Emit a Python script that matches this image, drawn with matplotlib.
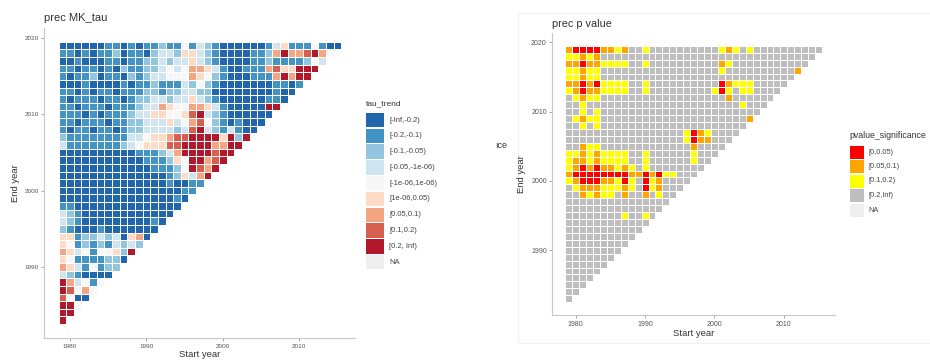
import numpy as np
import matplotlib
matplotlib.use("Agg")
import matplotlib.pyplot as plt
from matplotlib.colors import ListedColormap, BoundaryNorm
from matplotlib.patches import Rectangle

plt.rcParams['font.family'] = ['Liberation Sans', 'DejaVu Sans']

# ---------------- data ----------------
start_years = list(range(1979, 2016))          # columns
end_years = list(range(2019, 1982, -1))        # rows, top to bottom

tau_labels = ["[-Inf,-0.2)", "[-0.2,-0.1)", "[-0.1,-0.05)", "[-0.05,-1e-06)",
              "[-1e-06,1e-06)", "[1e-06,0.05)", "[0.05,0.1)", "[0.1,0.2)",
              "[0.2, Inf)", "NA"]
tau_colors = ["#2166AC", "#4393C3", "#92C5DE", "#D1E5F0", "#F7F7F7",
              "#FDDBC7", "#F4A582", "#D6604D", "#B2182B", "#EFEFEF"]

# class index per cell (row = end year 2019 ... 1983, column = start year from 1979)
tau_rows = [
    "0000001101011" "2114132" "10000001" "35" "111" "4" "100",
    "1101011201102" "3325532" "10000112" "68667864",
    "0010001101122" "3233532" "10000112" "1111243",
    "1101101021122" "3434665" "31001116" "755888",
    "1011201102123" "3444654" "21000111" "68688",
    "0001000010112" "1113242" "10000000" "1101",
    "1101011011122" "1223322" "00000000" "100",
    "1011101101223" "3233532" "10000001" "10",
    "1101110111233" "6544665" "31000008" "8",
    "1110101112335" "5445783" "21000000",
    "1101110112233" "3534674" "2101000",
    "1011011012233" "3323783" "213100",
    "2111111113345" "5677" "88885828",
    "3111111123455" "5778" "8886688",
    "0000000000111" "2368" "888788",
    "0000000000011" "1254" "88678",
    "0000000000001" "1124" "8768",
    "0000000000000" "0125" "368",
    "0000000000000010011",
    "000000000000000011",
    "00000000000000010",
    "1100000000000000",
    "321000000000000",
    "32100000000010",
    "2100010000000",
    "551223230560",
    "54121213232",
    "6534144528",
    "541111220",
    "65314122",
    "3210000",
    "863414",
    "87464",
    "7400",
    "884",
    "88",
    "8",
]

p_labels = ["[0,0.05)", "[0.05,0.1)", "[0.1,0.2)", "[0.2,Inf)", "NA"]
p_colors = ["#FF0000", "#FFA500", "#FFFF00", "#BEBEBE", "#EFEFEF"]

p_rows = [
    "1000011213" "32" "3333333333" "21232" "3333333333",
    "22121" + "3" * 31,
    "11011" "2222" "33" "2" "3333333333" "12" + "3" * 11,
    "22122" + "3" * 17 + "2" + "3" * 10 + "1",
    "22122" + "3" * 28,
    "11010" "2222" "33" "2" + "3" * 10 + "01222" + "3" * 5,
    "21011" "2222" "33" "2" + "3" * 9 + "202322" + "3" * 4,
    "32122" + "3" * 18 + "1" + "3" * 6,
    "332" + "3" * 22 + "2" + "3" * 3,
    "33232" + "3" * 23,
    "32122" + "3" * 21 + "1",
    "33232" + "3" * 21,
    "3" * 17 + "2012" + "3" * 4,
    "3" * 17 + "2011" + "3" * 3,
    "33122" + "3" * 13 + "1" + "3" * 4,
    "22121" "2222" "33" "2" + "3" * 6 + "2" + "3" * 3,
    "21121" "2222" "33" "2" + "3" * 6 + "2" + "3" * 2,
    "2101011212" "3" "2" + "3" * 8,
    "1" "00000000" "11" "0" "1" "0" "22" "333",
    "2100011202" "3" "021" "3333",
    "3211122212" "3" "021" "333",
    "3312122313" "3" "132" "33",
    "3" * 15,
    "3" * 14,
    "33333333" "2" "33" "2" "3",
    "3" * 12, "3" * 11, "3" * 10, "3" * 9, "3" * 8, "3" * 7,
    "3" * 6, "3" * 5, "3" * 4, "3" * 3, "3" * 2, "3",
]


def to_grid(rows):
    grid = np.full((len(end_years), len(start_years)), np.nan)
    for r, s in enumerate(rows):
        e = end_years[r]
        j = e - min(end_years)
        for c, ch in enumerate(s):
            grid[j, c] = int(ch)
    return np.ma.masked_invalid(grid)


W, H = 930, 364
fig = plt.figure(figsize=(W / 100, H / 100), dpi=100)


def px_axes(left, top, right, bottom):
    return fig.add_axes([left / W, 1 - bottom / H, (right - left) / W, (bottom - top) / H])


xe = np.arange(min(start_years) - 0.5, max(start_years) + 1.5)
ye = np.arange(min(end_years) - 0.5, max(end_years) + 1.5)
xlim = (1976.65, 2017.35)
ylim = (1980.65, 2021.35)


def style_axes(ax, tick_fs):
    ax.set_xlim(*xlim)
    ax.set_ylim(*ylim)
    ax.set_xticks([1980, 1990, 2000, 2010])
    ax.set_yticks([1990, 2000, 2010, 2020])
    for s in ["top", "right"]:
        ax.spines[s].set_visible(False)
    for s in ["left", "bottom"]:
        ax.spines[s].set_color("#C8C8C8")
        ax.spines[s].set_linewidth(0.8)
    ax.tick_params(axis="both", length=2.5, width=0.6, color="#999999",
                   labelsize=tick_fs, labelcolor="#555555", pad=1.5)
    ax.set_facecolor("white")


# ---------------- left panel ----------------
ax1 = px_axes(44.4, 27.7, 355.4, 338.2)
tau_grid = to_grid(tau_rows)
cmap1 = ListedColormap(tau_colors[:9])
norm1 = BoundaryNorm(np.arange(-0.5, 9.5, 1), 9)
ax1.pcolormesh(xe, ye, tau_grid, cmap=cmap1, norm=norm1,
               edgecolors="white", linewidth=0.7)
style_axes(ax1, 4.6)
ax1.set_xlabel("Start year", fontsize=6.8, color="#333333", labelpad=1)
ax1.set_ylabel("End year", fontsize=6.8, color="#333333", labelpad=3)
ax1.set_title("prec MK_tau", fontsize=8, color="#333333", loc="left", pad=5, x=0.0)

# ---------------- right panel ----------------
ax2 = px_axes(552.4, 33.0, 834.9, 315.0)
p_grid = to_grid(p_rows)
cmap2 = ListedColormap(p_colors[:4])
norm2 = BoundaryNorm(np.arange(-0.5, 4.5, 1), 4)
ax2.pcolormesh(xe, ye, p_grid, cmap=cmap2, norm=norm2,
               edgecolors="white", linewidth=0.7)
style_axes(ax2, 5.0)
ax2.set_xlabel("Start year", fontsize=6.8, color="#333333", labelpad=1)
ax2.set_ylabel("End year", fontsize=6.8, color="#333333", labelpad=4)
ax2.set_title("prec p value", fontsize=7.8, color="#333333", loc="left", pad=4, x=0.0)

# ---------------- overlay (legends, frame) ----------------
ov = fig.add_axes([0, 0, 1, 1], zorder=-1)
ov.set_xlim(0, W)
ov.set_ylim(H, 0)
ov.axis("off")

# faint frame of the right image
ov.add_patch(Rectangle((518, 13), 420, 330, fill=False, edgecolor="#F2F2F2", linewidth=0.8))
ov.text(495, 146, "ıce", fontsize=6.5, color="#333333", va="center", ha="left")

ov2 = fig.add_axes([0, 0, 1, 1], zorder=5)
ov2.set_xlim(0, W)
ov2.set_ylim(H, 0)
ov2.axis("off")
ov2.patch.set_alpha(0)

# tau legend
ov2.text(366, 104, "tau_trend", fontsize=6.0, color="#333333", va="center", ha="left")
for k, (lab, col) in enumerate(zip(tau_labels, tau_colors)):
    yc = 120 + k * 15.8
    ov2.add_patch(Rectangle((366, yc - 7.2), 18, 14.4, facecolor=col, edgecolor="none"))
    ov2.text(389, yc, lab, fontsize=5.5, color="#444444", va="center", ha="left")

# p legend
ov2.text(849, 135, "pvalue_significance", fontsize=6.3, color="#333333", va="center", ha="left")
for k, (lab, col) in enumerate(zip(p_labels, p_colors)):
    yc = 152 + k * 14.5
    ov2.add_patch(Rectangle((850, yc - 6.5), 13.5, 13, facecolor=col, edgecolor="none"))
    ov2.text(868, yc, lab, fontsize=5.3, color="#444444", va="center", ha="left")

fig.savefig("out.png", dpi=100)
